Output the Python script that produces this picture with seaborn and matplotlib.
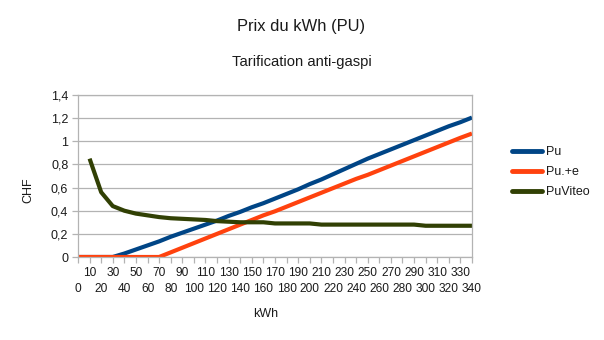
import matplotlib
matplotlib.use("Agg")
import matplotlib.pyplot as plt
import seaborn as sns
import pandas as pd
import numpy as np

# kWh categories (0 to 340 in steps of 10)
kwh = [0, 10, 20, 30, 40, 50, 60, 70, 80, 90, 100, 110, 120, 130, 140, 150, 160,
       170, 180, 190, 200, 210, 220, 230, 240, 250, 260, 270, 280, 290, 300,
       310, 320, 330, 340]

pu = [0, 0, 0, 0, 0.03, 0.065, 0.10, 0.135, 0.175, 0.21, 0.245, 0.28, 0.315,
      0.355, 0.39, 0.43, 0.465, 0.505, 0.545, 0.585, 0.63, 0.67, 0.715, 0.76,
      0.805, 0.85, 0.89, 0.93, 0.97, 1.01, 1.05, 1.09, 1.13, 1.165, 1.205]

pu_e = [0, 0, 0, 0, 0, 0, 0, 0, 0.04, 0.08, 0.12, 0.16, 0.20, 0.24, 0.28,
        0.32, 0.36, 0.395, 0.435, 0.475, 0.515, 0.555, 0.595, 0.635, 0.675,
        0.71, 0.75, 0.79, 0.83, 0.87, 0.91, 0.95, 0.99, 1.03, 1.067]

pu_viteo = [np.nan, 0.85, 0.56, 0.44, 0.40, 0.375, 0.36, 0.345, 0.335, 0.33,
            0.325, 0.32, 0.31, 0.305, 0.30, 0.30, 0.30, 0.29, 0.29, 0.29, 0.29,
            0.28, 0.28, 0.28, 0.28, 0.28, 0.28, 0.28, 0.28, 0.28, 0.27, 0.27,
            0.27, 0.27, 0.27]

series_names = ["Pu", "Pu.+e", "PuViteo"]
series_colors = ["#004586", "#ff420e", "#314004"]
y_ticks = [0, 0.2, 0.4, 0.6, 0.8, 1.0, 1.2, 1.4]

df = pd.DataFrame({"kWh": kwh * 3,
                   "CHF": pu + pu_e + pu_viteo,
                   "serie": [series_names[0]] * len(kwh)
                            + [series_names[1]] * len(kwh)
                            + [series_names[2]] * len(kwh)})

sns.set_theme(style="white")
plt.rcParams["font.family"] = ["Liberation Sans", "DejaVu Sans"]

fig = plt.figure(figsize=(6.04, 3.40), dpi=100)
ax = fig.add_axes([78 / 604, 1 - 257 / 340, (472 - 78) / 604, (257 - 95) / 340])

sns.lineplot(data=df, x="kWh", y="CHF", hue="serie", hue_order=series_names,
             palette=series_colors, linewidth=3, ax=ax, legend=False,
             solid_capstyle="butt")

ax.set_xlim(0, 340)
ax.set_ylim(0, 1.4)
ax.set_yticks(y_ticks)
ax.set_yticklabels([("%g" % v).replace(".", ",") for v in y_ticks])

# staggered category labels: odd steps on the first row (major ticks),
# even steps on a second row (minor ticks with a larger pad)
odd_k = [k for k in kwh if (k // 10) % 2 == 1]
even_k = [k for k in kwh if (k // 10) % 2 == 0]
ax.set_xticks(odd_k)
ax.set_xticklabels([str(k) for k in odd_k], fontsize=8.6)
ax.set_xticks(even_k, minor=True)
ax.set_xticklabels([str(k) for k in even_k], minor=True, fontsize=8.6)

grid_col = "#b3b3b3"
ax.grid(axis="y", which="major", color=grid_col, linewidth=0.9)
ax.set_axisbelow(True)
for side in ["left", "right", "top", "bottom"]:
    ax.spines[side].set_color(grid_col)
    ax.spines[side].set_linewidth(0.9)
ax.tick_params(axis="both", which="both", length=4, width=0.9, color=grid_col,
               labelcolor="#1a1a1a", direction="out")
ax.tick_params(axis="y", labelsize=9, pad=3)
ax.tick_params(axis="x", which="major", pad=3.5)
ax.tick_params(axis="x", which="minor", pad=14.5)
ax.xaxis.set_ticks_position("bottom")
ax.yaxis.set_ticks_position("left")
ax.set_xlabel("")
ax.set_ylabel("")

fig.text(266 / 604, 1 - 314 / 340, "kWh", ha="center", va="center",
         fontsize=9, color="#1a1a1a")
fig.text(28 / 604, 1 - 190 / 340, "CHF", ha="center", va="center",
         rotation=90, fontsize=9, color="#1a1a1a")

fig.text(301 / 604, 1 - 27 / 340, "Prix du kWh (PU)", ha="center", va="center",
         fontsize=11.9, color="#1a1a1a")
fig.text(302 / 604, 1 - 62 / 340, "Tarification anti-gaspi", ha="center",
         va="center", fontsize=10.6, color="#1a1a1a")

# legend drawn beside the plot area
handles = [plt.Line2D([0], [0], color=c, linewidth=3.5) for c in series_colors]
fig.legend(handles, series_names, loc="upper left",
           bbox_to_anchor=(501 / 604, 1 - 135 / 340), frameon=False,
           fontsize=9, handlelength=2.4, handletextpad=0.3, labelspacing=0.65,
           labelcolor="#1a1a1a")

fig.savefig("out.png", dpi=100, facecolor="white")
